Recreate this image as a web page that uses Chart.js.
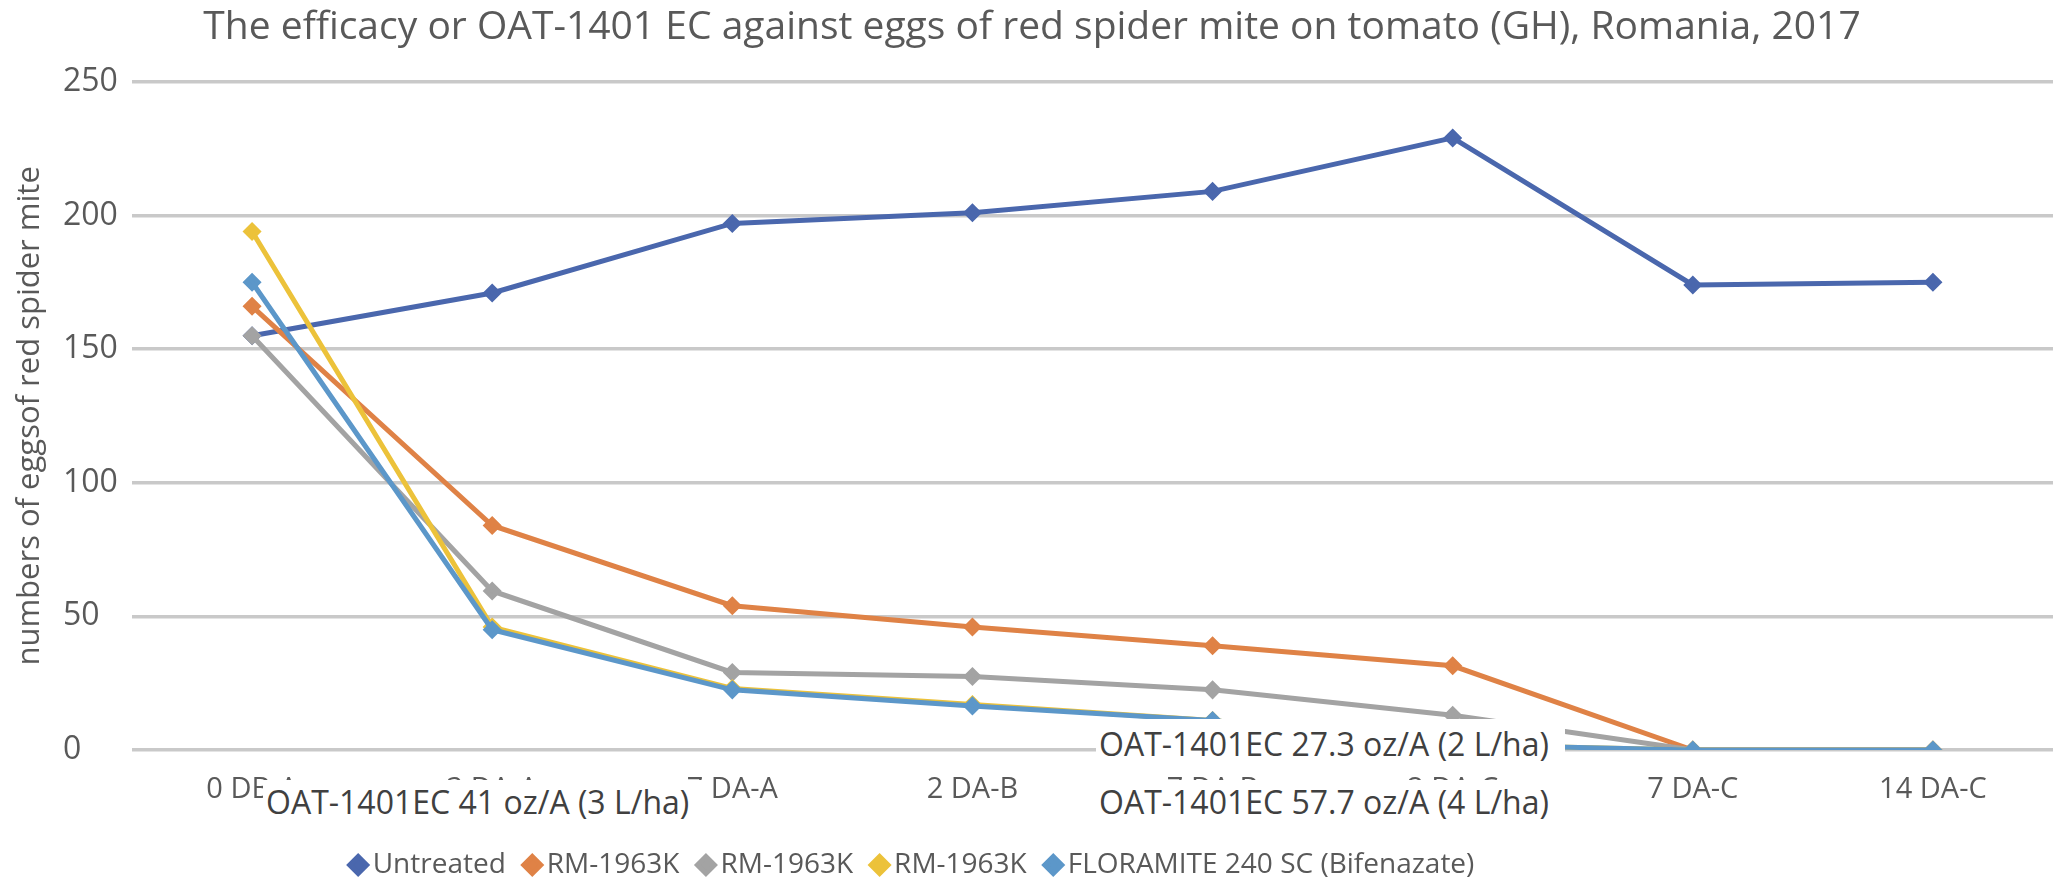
<!DOCTYPE html>
<html>
<head>
<meta charset="utf-8">
<title>OAT-1401 EC - red spider mite eggs</title>
<script src="https://cdn.jsdelivr.net/npm/chart.js@4.4.1/dist/chart.umd.min.js"></script>
<style>
  body { margin: 0; background: #fff; }
  #wrap { position: relative; width: 2064px; height: 880px; }
  .nota {
    position: absolute; background: #fff; color: #404040;
    font-family: 'Open Sans', sans-serif; font-size: 32px;
    height: 50px; line-height: 50px; white-space: nowrap; padding-left: 3px;
  }
</style>
</head>
<body>
<div id="wrap">
  <canvas id="grafico" width="2064" height="880"></canvas>
  <div class="nota" style="left:263px; top:780px; width:436px; line-height:44px;">OAT-1401EC 41 oz/A (3 L/ha)</div>
  <div class="nota" style="left:1096px; top:719px; width:466px;">OAT-1401EC 27.3 oz/A (2 L/ha)</div>
  <div class="nota" style="left:1096px; top:780px; width:466px; line-height:44px;">OAT-1401EC 57.7 oz/A (4 L/ha)</div>
</div>
<script>
// datos
var categorias = ['0 DB-A', '3 DA-A', '7 DA-A', '2 DA-B', '7 DA-B', '2 DA-C', '7 DA-C', '14 DA-C'];
var nombres = ['Untreated', 'RM-1963K', 'RM-1963K', 'RM-1963K', 'FLORAMITE 240 SC (Bifenazate)'];
var untreated = [155, 171, 197, 201, 209, 229, 174, 175];
var rm1 = [166, 84, 54, 46, 39, 31.5, 0, 0];
var rm2 = [155, 59.5, 29, 27.5, 22.5, 13, 0, 0];
var rm3 = [194, 46, 23, 17, 11, 2, 0, 0];
var floramite = [175, 45, 22.5, 16.5, 11, 2, 0, 0];
var ticksY = [0, 50, 100, 150, 200, 250];

var colores = ['#4a67ad', '#df8246', '#a3a3a3', '#ecc23a', '#5c97c9'];
var series = [untreated, rm1, rm2, rm3, floramite];
var fuente = "'Open Sans', sans-serif";
var gris = '#595959';
var tamLeyenda = 28;
var padLeyenda = 26;

// la leyenda del original esta corrida a la izquierda y un poco mas abajo
var moverLeyenda = {
    id: 'moverLeyenda',
    beforeDraw: function (chart) {
        var lg = chart.legend;
        var shift = 916 - (lg.left + lg.right) / 2;
        lg.left += shift;
        lg.right += shift;
        lg.top = 865 - padLeyenda - tamLeyenda / 2;
        lg.bottom = lg.top + lg.height;
    }
};

var datasets = series.map(function (valores, i) {
    return {
        label: nombres[i],
        data: valores,
        borderColor: colores[i],
        backgroundColor: colores[i],
        pointBackgroundColor: colores[i],
        pointBorderColor: colores[i],
        borderWidth: 5,
        pointStyle: 'rectRot',
        pointRadius: 6,
        tension: 0,
        order: series.length - i
    };
});

var chart = new Chart(document.getElementById('grafico').getContext('2d'), {
    type: 'line',
    data: { labels: categorias, datasets: datasets },
    plugins: [moverLeyenda],
    options: {
        responsive: false,
        animation: false,
        layout: { padding: 0 },
        plugins: {
            title: {
                display: true,
                text: 'The efficacy or OAT-1401 EC against eggs of red spider mite on tomato (GH), Romania, 2017',
                color: gris,
                font: { family: fuente, size: 39, weight: 'normal' },
                padding: { top: 4, bottom: 31 }
            },
            legend: {
                position: 'bottom',
                labels: {
                    usePointStyle: true,
                    boxWidth: 1,
                    boxHeight: 12,
                    padding: padLeyenda,
                    color: gris,
                    font: { family: fuente, size: tamLeyenda },
                    sort: function (a, b) { return a.datasetIndex - b.datasetIndex; }
                }
            },
            tooltip: { enabled: false }
        },
        scales: {
            x: {
                offset: true,
                grid: { display: false },
                border: { display: false },
                ticks: { color: gris, font: { family: fuente, size: 29 }, padding: 14, maxRotation: 0 },
                afterFit: function (scale) {
                    scale.height = 880 - 750 - scale.chart.legend.height;
                }
            },
            y: {
                min: 0,
                max: 250,
                weight: 0,
                afterBuildTicks: function (scale) {
                    scale.ticks = ticksY.map(function (v) { return { value: v }; });
                },
                grid: { color: '#c9c9c9', lineWidth: 3.5, drawTicks: false },
                border: { display: false },
                ticks: { color: gris, font: { family: fuente, size: 32 }, crossAlign: 'far' },
                afterFit: function (scale) { scale.width = 69; }
            },
            titulo: {
                type: 'linear',
                position: 'left',
                weight: 1,
                grid: { display: false },
                border: { display: false },
                ticks: { display: false },
                title: {
                    display: true,
                    text: 'numbers of eggsof red spider mite',
                    color: gris,
                    font: { family: fuente, size: 31 },
                    padding: { top: 12, bottom: 0 }
                },
                afterFit: function (scale) { scale.width = 63; }
            }
        }
    }
});
</script>
</body>
</html>
